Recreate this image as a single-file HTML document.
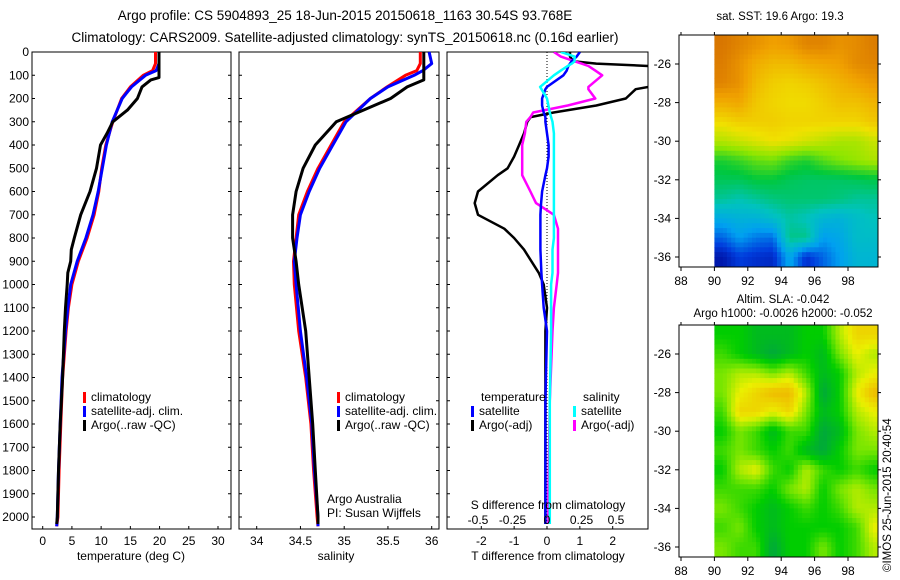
<!DOCTYPE html>
<html><head><meta charset="utf-8"><style>
body{margin:0;background:#fff}
svg{display:block;font-family:"Liberation Sans",sans-serif}
text{fill:#000}
</style></head><body>
<svg id="c" width="900" height="580" viewBox="0 0 900 580">
<text x="345" y="20" font-size="13.5" text-anchor="middle">Argo profile: CS 5904893_25 18-Jun-2015 20150618_1163 30.54S 93.768E</text>
<text x="345" y="42" font-size="13.5" text-anchor="middle">Climatology: CARS2009. Satellite-adjusted climatology: synTS_20150618.nc (0.16d earlier)</text>
<text x="780" y="20" font-size="11.5" text-anchor="middle">sat. SST: 19.6 Argo: 19.3</text>
<text x="783" y="303" font-size="11.5" text-anchor="middle">Altim. SLA: -0.042</text>
<text x="783" y="317" font-size="11.5" text-anchor="middle">Argo h1000: -0.0026 h2000: -0.052</text>
<text id="credit" transform="translate(891,572) rotate(-90)" font-size="11.5">©IMOS 25-Jun-2015 20:40:54</text>
</svg>
<script>
// ---- data ----
const depthClimT=[0,50,80,100,150,200,300,400,500,600,700,800,900,1000,1100,1200,1400,1600,1800,2000,2040];
const tempClim=[19.3,19.3,18.8,17.2,15,13.5,12,10.8,10.1,9.6,8.8,7.6,6.1,5.0,4.4,4.0,3.4,3.1,2.8,2.6,2.4];
const tempSat=[19.9,19.9,19.4,17.6,15.2,13.6,11.9,10.9,10.2,9.5,8.6,7.4,5.9,4.8,4.3,3.9,3.3,3.0,2.7,2.5,2.4];
const depthArgoT=[0,110,120,150,200,250,300,350,400,500,600,700,800,850,900,950,1000,1100,1200,1400,1600,1800,2000,2030];
const tempArgo=[19.9,19.9,18.5,17,16.2,14.5,12,11,9.9,9.2,8.1,6.5,5.4,4.9,4.8,4.3,4.2,3.9,3.7,3.4,3.0,2.7,2.5,2.4];
const depthS=[0,50,80,100,150,200,300,400,500,600,700,800,900,1000,1200,1400,1600,1800,2000,2040];
const salClim=[35.87,35.87,35.83,35.7,35.49,35.3,35.0,34.85,34.7,34.58,34.48,34.45,34.42,34.43,34.48,34.56,34.62,34.65,34.69,34.7];
const salSat=[35.97,36.0,35.9,35.8,35.5,35.3,35.02,34.87,34.72,34.6,34.5,34.46,34.43,34.45,34.5,34.57,34.63,34.66,34.7,34.7];
const depthArgoS=[0,120,150,200,250,300,400,500,600,700,800,900,1000,1200,1400,1600,1800,2000,2030];
const salArgo=[35.91,35.91,35.72,35.53,35.22,34.91,34.67,34.53,34.45,34.41,34.41,34.45,34.48,34.56,34.6,34.64,34.67,34.7,34.7];
const depthD=[0,20,40,50,60,80,100,150,160,200,230,260,280,300,350,400,450,500,530,600,650,700,760,800,850,950,1000,1100,1200,1500,1900,2030];
const dTsat=[1.0,0.9,0.75,0.7,0.65,0.6,0.5,0.0,-0.05,-0.15,-0.15,-0.1,-0.05,-0.05,0.0,0.05,0.05,0.0,-0.05,-0.15,-0.18,-0.2,-0.2,-0.2,-0.2,-0.17,-0.15,-0.1,0.0,-0.05,-0.05,-0.05];
const dTargo=[0.7,0.7,0.8,1.5,3.1,3.1,3.1,3.1,2.7,2.4,1.5,0.2,-0.5,-0.6,-0.7,-0.85,-1.0,-1.2,-1.5,-2.1,-2.2,-2.1,-1.3,-1.0,-0.7,-0.25,-0.1,0.0,-0.05,-0.05,-0.05,-0.05];
const dSsat=[0.1,0.2,0.2,0.18,0.15,0.1,0.05,-0.05,-0.04,0.0,0.01,0.02,0.03,0.04,0.05,0.05,0.05,0.05,0.05,0.05,0.05,0.05,0.05,0.05,0.04,0.04,0.03,0.03,0.03,0.02,0.02,0.02];
const dSargo=[0.05,0.1,0.2,0.25,0.3,0.35,0.4,0.3,0.3,0.35,0.15,-0.1,-0.12,-0.15,-0.16,-0.18,-0.18,-0.18,-0.18,-0.12,-0.08,0.05,0.08,0.08,0.08,0.08,0.07,0.05,0.04,0.02,0.01,0.01];
const depthTicks=[0,100,200,300,400,500,600,700,800,900,1000,1100,1200,1300,1400,1500,1600,1700,1800,1900,2000];
const tempTicks=[0,5,10,15,20,25,30];
const salTicks=[34,34.5,35,35.5,36];
const salTickLabels=["34","34.5","35","35.5","36"];
const dTTicks=[-2,-1,0,1,2];
const dSTicks=[-0.5,-0.25,0,0.25,0.5];
const dSTickLabels=["-0.5","-0.25","0","0.25","0.5"];
const lonTicks=[88,90,92,94,96,98];
const latTicks=[-26,-28,-30,-32,-34,-36];
const sstGrid=[
[.86,.84,.82,.80,.81,.84,.84,.82,.83,.85],
[.85,.82,.78,.76,.76,.78,.79,.80,.83,.84],
[.84,.82,.76,.73,.72,.73,.75,.77,.79,.81],
[.78,.79,.74,.72,.71,.71,.73,.75,.75,.77],
[.71,.73,.73,.73,.72,.72,.72,.72,.72,.74],
[.64,.66,.68,.70,.69,.67,.65,.63,.63,.66],
[.52,.54,.57,.58,.54,.52,.56,.59,.61,.63],
[.48,.48,.50,.50,.48,.47,.47,.47,.48,.49],
[.43,.41,.43,.45,.46,.46,.46,.45,.43,.43],
[.33,.35,.35,.38,.42,.40,.36,.35,.38,.40],
[.24,.30,.26,.25,.44,.44,.30,.32,.38,.38],
[.14,.20,.18,.17,.32,.18,.24,.30,.36,.36]];
const slaGrid=[
[.3,.3,.2,.2,.2,.3,.3,.6,.8,.8],
[.4,.3,.2,.1,.2,.3,.2,.5,.7,.6],
[.5,.6,.6,.5,.6,.4,.2,.3,.6,.7],
[.5,.7,.8,.9,.9,.6,.1,.3,.7,.9],
[.4,.8,.8,.7,.8,.5,.2,.3,.6,.7],
[.3,.5,.4,.2,.4,.4,.1,.2,.5,.6],
[.4,.5,.4,.3,.4,.2,.1,.3,.5,.5],
[.3,.6,.7,.4,.3,.6,.4,.3,.4,.3],
[.4,.4,.4,.3,.5,.6,.3,.5,.6,.5],
[.5,.4,.3,.2,.3,.4,.3,.4,.6,.6],
[.4,.5,.3,.2,.3,.3,.3,.3,.4,.7],
[.5,.4,.4,.1,.3,.3,.5,.3,.4,.6]];

const NS="http://www.w3.org/2000/svg";
const svg=document.getElementById('c');
function mk(tag,attrs,parent){const e=document.createElementNS(NS,tag);for(const k in attrs)e.setAttribute(k,attrs[k]);(parent||svg).appendChild(e);return e;}
function lin(d0,d1,r0,r1){return v=>r0+(v-d0)*(r1-r0)/(d1-d0);}
const yD=lin(0,2000,52,517);
const PT=52,PB=529;

function panel(name,x0,x1){
  const g=mk('g',{});
  
  
  mk('rect',{x:x0,y:PT,width:x1-x0,height:PB-PT,fill:'none',stroke:'#000','stroke-width':1},g);
  return g;
}
function line(g,xs,ys,xf,color,name,w){
  const p=mk('polyline',{points:xs.map((v,i)=>xf(v).toFixed(1)+','+yD(ys[i]).toFixed(1)).join(' '),fill:'none',stroke:color,'stroke-width':w||3,'stroke-linejoin':'round'},g);
  
  
}
function txt(g,x,y,s,size,anchor,name){
  const t=mk('text',{x:x,y:y,'font-size':size,'text-anchor':anchor||'start'},g);
  t.textContent=s;
  
  
  return t;
}
function legend(g,x,y,items){
  items.forEach((it,i)=>{
    mk('rect',{x:x,y:y+i*14-9,width:3,height:11,fill:it[1]},g);
    txt(g,x+8,y+i*14,it[0],12,'start','legend-entry');
  });
}

// panel 1 temperature
const xT=lin(0,30,42.7,218);
const g1=panel('temperature-panel',32,231);
depthTicks.forEach(d=>{
  mk('line',{x1:32,x2:35,y1:yD(d),y2:yD(d),stroke:'#000'},g1);
  mk('line',{x1:228,x2:231,y1:yD(d),y2:yD(d),stroke:'#000'},g1);
  txt(g1,29,yD(d)+4,String(d),12,'end','y-tick-label');
});
tempTicks.forEach(t=>{
  mk('line',{x1:xT(t),x2:xT(t),y1:PB,y2:PB-3,stroke:'#000'},g1);
  txt(g1,xT(t),PB+16,String(t),12,'middle','x-tick-label');
});
txt(g1,131,560,'temperature (deg C)',12,'middle','x-axis-title');
line(g1,tempClim,depthClimT,xT,'#f00','temp-climatology-line');
line(g1,tempSat,depthClimT,xT,'#00f','temp-satellite-line');
line(g1,tempArgo,depthArgoT,xT,'#000','temp-argo-line');
legend(g1,83,401,[['climatology','#f00'],['satellite-adj. clim.','#00f'],['Argo(..raw -QC)','#000']]);

// panel 2 salinity
const xS=lin(34,36,256.7,431.7);
const g2=panel('salinity-panel',239,439);
depthTicks.forEach(d=>{
  mk('line',{x1:239,x2:242,y1:yD(d),y2:yD(d),stroke:'#000'},g2);
  mk('line',{x1:436,x2:439,y1:yD(d),y2:yD(d),stroke:'#000'},g2);
});
salTicks.forEach((t,i)=>{
  mk('line',{x1:xS(t),x2:xS(t),y1:PB,y2:PB-3,stroke:'#000'},g2);
  txt(g2,xS(t),PB+16,salTickLabels[i],12,'middle','x-tick-label');
});
txt(g2,336,560,'salinity',12,'middle','x-axis-title');
line(g2,salClim,depthS,xS,'#f00','sal-climatology-line');
line(g2,salSat,depthS,xS,'#00f','sal-satellite-line');
line(g2,salArgo,depthArgoS,xS,'#000','sal-argo-line');
legend(g2,337,401,[['climatology','#f00'],['satellite-adj. clim.','#00f'],['Argo(..raw -QC)','#000']]);
txt(g2,327,503,'Argo Australia',12,'start','credit-text');
txt(g2,327,517,'PI: Susan Wijffels',12,'start','credit-text');

// panel 3 differences
const xDT=lin(0,2,547,612.7);
const xDS=lin(0,0.5,547,616);
const g3=panel('difference-panel',447,648);
const cl=mk('clipPath',{id:'cp3'});
mk('rect',{x:447,y:PT,width:201,height:PB-PT},cl);
mk('line',{x1:547,x2:547,y1:PT,y2:PB,stroke:'#000','stroke-dasharray':'1,2'},g3);
depthTicks.forEach(d=>{
  mk('line',{x1:447,x2:450,y1:yD(d),y2:yD(d),stroke:'#000'},g3);
});
dTTicks.forEach(t=>{
  mk('line',{x1:xDT(t),x2:xDT(t),y1:PB,y2:PB-3,stroke:'#000'},g3);
  txt(g3,xDT(t),PB+16,String(t),12,'middle','t-diff-tick-label');
});
const g3c=mk('g',{'clip-path':'url(#cp3)'},g3);
line(g3c,dTargo,depthD,xDT,'#000','t-diff-argo-line',2.5);
line(g3c,dSargo,depthD,xDS,'#f0f','s-diff-argo-line',2.5);
line(g3c,dTsat,depthD,xDT,'#00f','t-diff-satellite-line',2.5);
line(g3c,dSsat,depthD,xDS,'#0ff','s-diff-satellite-line',2.5);
dSTicks.forEach((t,i)=>{
  txt(g3,xDS(t),PB-5,dSTickLabels[i],12,'middle','s-diff-tick-label');
});
txt(g3,548,509,'S difference from climatology',12,'middle','s-diff-axis-title');
txt(g3,548,560,'T difference from climatology',12,'middle','t-diff-axis-title');
txt(g3,481,401,'temperature',12,'start','legend-header');
txt(g3,583,401,'salinity',12,'start','legend-header');
legend(g3,471,415,[['satellite','#00f'],['Argo(-adj)','#000']]);
legend(g3,573,415,[['satellite','#0ff'],['Argo(-adj)','#f0f']]);

// maps
function ramp(stops){return v=>{if(v<=stops[0][0])return 'rgb('+stops[0][1].join(',')+')';for(let i=1;i<stops.length;i++){if(v<=stops[i][0]){const a=stops[i-1],b=stops[i],f=(v-a[0])/(b[0]-a[0]);return 'rgb('+a[1].map((c,k)=>Math.round(c+(b[1][k]-c)*f)).join(',')+')';}}return 'rgb('+stops[stops.length-1][1].join(',')+')';};}
const sstCol=ramp([[0.1,[0,0,140]],[0.2,[0,60,220]],[0.3,[0,160,240]],[0.4,[0,195,190]],[0.5,[0,200,60]],[0.6,[140,230,0]],[0.7,[240,225,0]],[0.8,[240,160,0]],[0.9,[200,90,0]]]);
const slaCol=ramp([[0,[0,150,90]],[0.3,[0,205,0]],[0.5,[120,230,0]],[0.7,[235,240,0]],[1,[240,160,0]]]);
function sample(grid,r,c){
  r=Math.max(0,Math.min(grid.length-1,r));c=Math.max(0,Math.min(grid[0].length-1,c));
  const r0=Math.floor(r),c0=Math.floor(c),r1=Math.min(r0+1,grid.length-1),c1=Math.min(c0+1,grid[0].length-1),fr=r-r0,fc=c-c0;
  return grid[r0][c0]*(1-fr)*(1-fc)+grid[r0][c1]*(1-fr)*fc+grid[r1][c0]*fr*(1-fc)+grid[r1][c1]*fr*fc;
}
function map(name,top,grid,cfn){
  const g=mk('g',{});
  
  
  const xL=lin(88,98,681,848);
  const yL=lin(-26,-36,top+29,top+222);
  const S=4;
  for(let r=0;r<grid.length*S;r++)for(let c=0;c<grid[0].length*S;c++){
    const v=sample(grid,(r+0.5)/S-0.5,(c+0.5)/S-0.5);
    const lon=90+c/S, lat=-24.5-r/S;
    const cell=mk('rect',{x:xL(lon).toFixed(1),y:yL(lat).toFixed(1),width:((xL(91)-xL(90))/S+0.5).toFixed(2),height:((yL(-25.5)-yL(-24.5))/S+0.5).toFixed(2),fill:cfn(v)},g);
    
    
  }
  mk('rect',{x:878,y:top-1,width:10,height:234,fill:'#fff'},g);
  mk('rect',{x:679,y:top,width:199,height:232,fill:'none',stroke:'#000'},g);
  lonTicks.forEach(l=>{
    mk('line',{x1:xL(l),x2:xL(l),y1:top+232,y2:top+236,stroke:'#000'},g);
    mk('line',{x1:xL(l),x2:xL(l),y1:top,y2:top-3,stroke:'#000'},g);
    txt(g,xL(l),top+250,String(l),12,'middle','lon-tick-label');
  });
  latTicks.forEach(l=>{
    mk('line',{x1:675,x2:679,y1:yL(l),y2:yL(l),stroke:'#000'},g);
    mk('line',{x1:878,x2:881,y1:yL(l),y2:yL(l),stroke:'#000'},g);
    txt(g,671,yL(l)+4,String(l),12,'end','lat-tick-label');
  });
}
map('sst-map',35,sstGrid,sstCol);
map('sla-map',325,slaGrid,slaCol);
svg.appendChild(document.getElementById('credit'));
</script>
</body></html>
